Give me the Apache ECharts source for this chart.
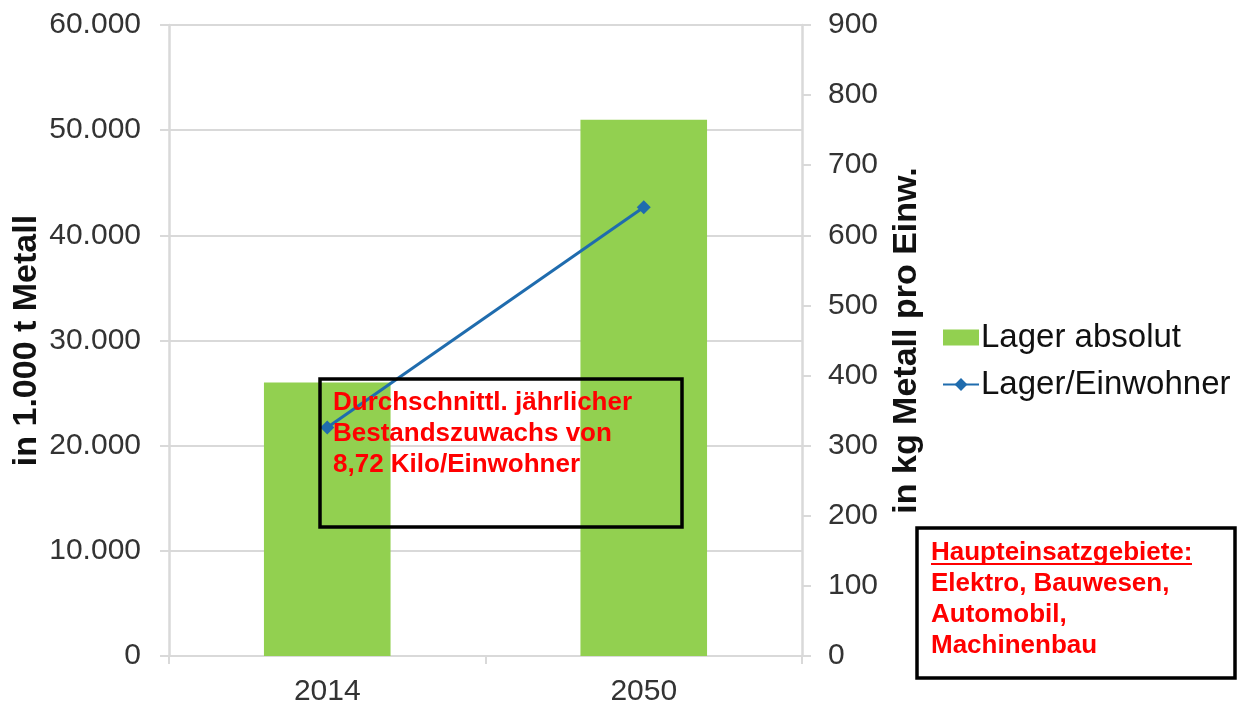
<!DOCTYPE html>
<html>
<head>
<meta charset="utf-8">
<script src="https://cdn.jsdelivr.net/npm/echarts@6/dist/echarts.min.js"></script>
<style>
  html, body { margin: 0; padding: 0; background: #fff; }
  #chart { width: 1244px; height: 704px; }
</style>
</head>
<body>
<div id="chart"></div>
<script>
  // Daten
  const years = ['2014', '2050'];
  const lagerAbsolut = [26000, 51000];     // in 1.000 t Metall
  const lagerEinwohner = [326, 640];       // in kg Metall pro Einw.
  const leftTicks = ['0', '10.000', '20.000', '30.000', '40.000', '50.000', '60.000'];
  const rightTicks = ['0', '100', '200', '300', '400', '500', '600', '700', '800', '900'];

  const font = "'Liberation Sans', Arial, sans-serif";
  const gridColor = '#d9d9d9';
  const textColor = '#333';

  let chart = echarts.init(document.getElementById('chart'));

  let option = {
    animation: false,
    backgroundColor: '#fff',
    grid: {
      left: 169,
      right: 442,
      top: 25,
      bottom: 48,
      containLabel: false,
      outerBoundsMode: 'none'
    },
    legend: {
      orient: 'vertical',
      left: 937,
      top: 316,
      itemWidth: 36,
      itemHeight: 16,
      itemGap: 14,
      textStyle: { fontFamily: font, fontSize: 33, color: '#111', padding: [0, 0, 0, -3] },
      data: [
        { name: 'Lager absolut', icon: 'rect' },
        { name: 'Lager/Einwohner' }
      ]
    },
    xAxis: {
      type: 'category',
      data: years,
      boundaryGap: true,
      axisLine: { show: true, lineStyle: { color: gridColor, width: 2 } },
      axisTick: { show: true, length: 8, lineStyle: { color: gridColor, width: 2 } },
      axisLabel: { fontFamily: font, fontSize: 30, color: textColor, margin: 21 }
    },
    yAxis: [
      {
        type: 'value',
        min: 0,
        max: 60000,
        interval: 10000,
        name: 'in 1.000 t Metall',
        nameLocation: 'middle',
        nameRotate: 90,
        nameGap: 125,
        nameMoveOverlap: false,
        nameTextStyle: { fontFamily: font, fontSize: 34, fontWeight: 'bold', color: '#111' },
        axisLine: { show: true, lineStyle: { color: gridColor, width: 2.5 } },
        axisTick: { show: true, length: 9, lineStyle: { color: gridColor, width: 2 } },
        axisLabel: {
          fontFamily: font, fontSize: 30, color: textColor, margin: 28,
          formatter: (v) => leftTicks[Math.round(v / 10000)]
        },
        splitLine: { show: true, lineStyle: { color: gridColor, width: 2 } }
      },
      {
        type: 'value',
        min: 0,
        max: 900,
        interval: 100,
        name: 'in kg Metall pro Einw.',
        nameLocation: 'middle',
        nameRotate: 90,
        nameGap: 88,
        nameMoveOverlap: false,
        nameTextStyle: { fontFamily: font, fontSize: 34, fontWeight: 'bold', color: '#111' },
        axisLine: { show: true, lineStyle: { color: gridColor, width: 2.5 } },
        axisTick: { show: true, length: 9, lineStyle: { color: gridColor, width: 2 } },
        axisLabel: {
          fontFamily: font, fontSize: 30, color: textColor, margin: 26,
          formatter: (v) => rightTicks[Math.round(v / 100)]
        },
        splitLine: { show: false }
      }
    ],
    series: [
      {
        name: 'Lager absolut',
        type: 'bar',
        yAxisIndex: 0,
        barWidth: '40%',
        itemStyle: { color: '#92d050' },
        data: lagerAbsolut
      },
      {
        name: 'Lager/Einwohner',
        type: 'line',
        yAxisIndex: 1,
        symbol: 'diamond',
        symbolSize: 14,
        itemStyle: { color: '#1f6cae' },
        lineStyle: { color: '#1f6cae', width: 3 },
        data: lagerEinwohner
      }
    ],
    graphic: [
      {
        type: 'rect',
        shape: { x: 320, y: 379, width: 362, height: 148 },
        style: { fill: 'none', stroke: '#000', lineWidth: 3.5 },
        z: 100
      },
      {
        type: 'text',
        left: 333, top: 387,
        style: {
          text: 'Durchschnittl. jährlicher\nBestandszuwachs von\n8,72 Kilo/Einwohner',
          fontFamily: font, fontSize: 26, fontWeight: 'bold', fill: '#ff0000', lineHeight: 31
        },
        z: 100
      },
      {
        type: 'rect',
        shape: { x: 917, y: 528, width: 318, height: 150 },
        style: { fill: '#fff', stroke: '#000', lineWidth: 3.5 },
        z: 100
      },
      {
        type: 'text',
        left: 931, top: 537,
        style: {
          text: 'Haupteinsatzgebiete:\nElektro, Bauwesen,\nAutomobil,\nMachinenbau',
          fontFamily: font, fontSize: 26, fontWeight: 'bold', fill: '#ff0000', lineHeight: 31
        },
        z: 101
      },
      {
        type: 'line',
        shape: { x1: 931, y1: 564, x2: 1192, y2: 564 },
        style: { stroke: '#ff0000', lineWidth: 2 },
        z: 101
      }
    ]
  };

  chart.setOption(option);
</script>
</body>
</html>
